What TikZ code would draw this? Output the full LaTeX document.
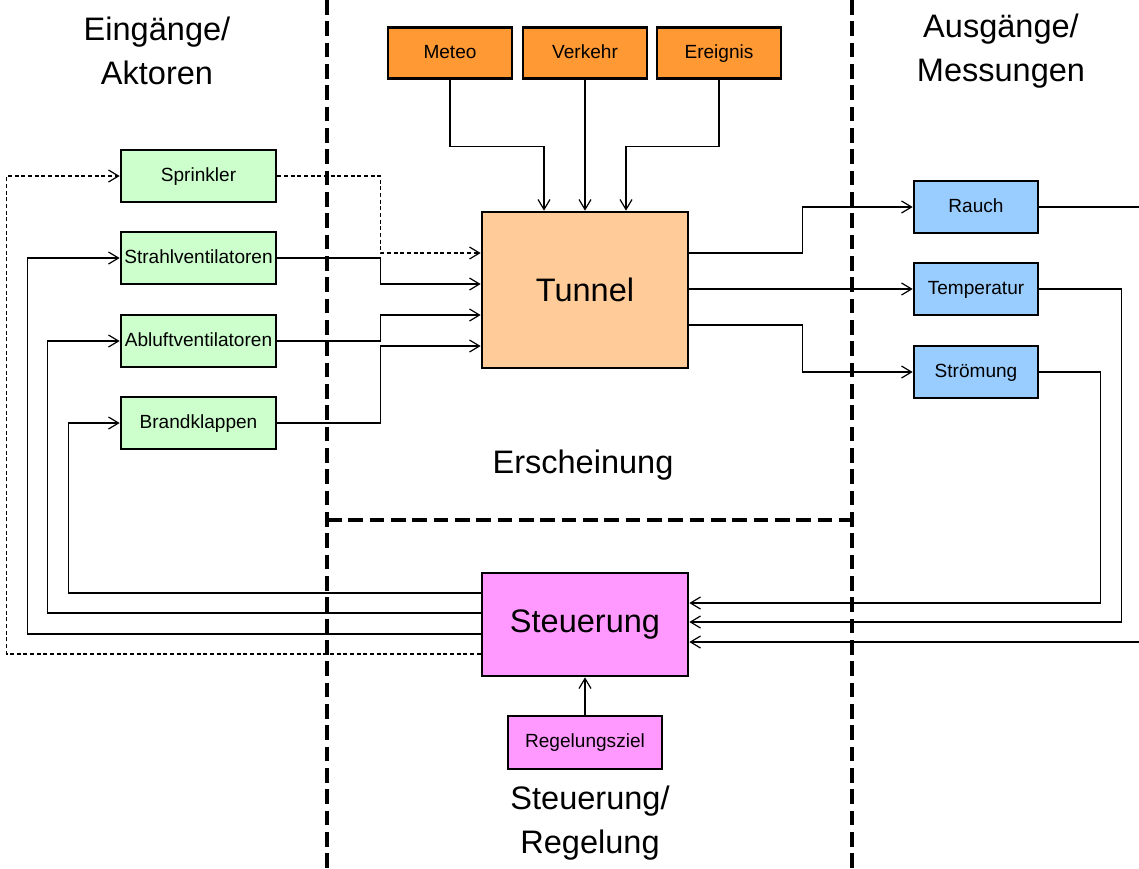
\documentclass[tikz,border=0pt]{standalone}
\usepackage{fontspec}
\setmainfont{Liberation Sans}
\usetikzlibrary{arrows.meta, positioning, calc}
\definecolor{aktor}{HTML}{CCFFCC}
\definecolor{stoer}{HTML}{FF9933}
\definecolor{tunnelc}{HTML}{FFCC99}
\definecolor{mess}{HTML}{99CCFF}
\definecolor{regel}{HTML}{FF99FF}
\tikzset{
  box/.style={draw, line width=2pt, inner sep=1pt, text height=10.5pt, text depth=3pt,
    font=\fontsize{14.3}{17}\selectfont},
  bigbox/.style={draw, line width=2pt, font=\fontsize{24.4}{30}\selectfont},
  title/.style={align=center, font=\fontsize{24.4}{32.5}\selectfont},
  arr/.style={line width=0.9pt, -{Straight Barb[length=7.5pt,width=9pt,line width=0.9pt]}},
  fine/.style={line width=0.9pt},
  fdash/.style={dash pattern=on 3pt off 2pt},
  divider/.style={line width=3pt, dash pattern=on 11pt off 5pt}
}

\begin{document}
\begin{tikzpicture}[x=0.75pt, y=-0.75pt]
  \useasboundingbox (0,0) rectangle (1139,868);
  % region borders
  \draw[divider] (327,0) -- (327,868);
  \draw[divider] (852,0) -- (852,868);
  \draw[divider] (327,520) -- (852,520);
  % titles
  \node[title] (tin) at (157,51) {Eingänge/\\Aktoren};
  \node[title] (tout) at (1001,51) {Ausgänge/\\Messungen};
  \node[title] (terschein) at (583,465) {Erscheinung};
  \node[title] (tregel) at (590,823) {Steuerung/\\Regelung};
  % disturbances
  \node[box, fill=stoer, minimum width=93pt, minimum height=38.25pt] (meteo) at (450,53) {Meteo};
  \node[box, fill=stoer, minimum width=93pt, minimum height=38.25pt] (verkehr) at (585,53) {Verkehr};
  \node[box, fill=stoer, minimum width=93pt, minimum height=38.25pt] (ereignis) at (719,53) {Ereignis};
  % plant and controller
  \node[bigbox, fill=tunnelc, minimum width=154.5pt, minimum height=117pt] (tunnel) at (585,290) {Tunnel};
  \node[bigbox, fill=regel, minimum width=154.5pt, minimum height=77.25pt] (steuerung) at (585,624.5) {Steuerung};
  \node[box, fill=regel, minimum width=115.5pt, minimum height=39.75pt] (ziel) at (585,742.5) {Regelungsziel};
  % actuators
  \node[box, fill=aktor, minimum width=116.25pt, minimum height=39pt] (sprinkler) at (198.5,176) {Sprinkler};
  \node[box, fill=aktor, minimum width=116.25pt, minimum height=39pt] (strahl) at (198.5,258) {Strahlventilatoren};
  \node[box, fill=aktor, minimum width=116.25pt, minimum height=39pt] (abluft) at (198.5,341) {Abluftventilatoren};
  \node[box, fill=aktor, minimum width=116.25pt, minimum height=39pt] (brand) at (198.5,423) {Brandklappen};
  % measurements
  \node[box, fill=mess, minimum width=93pt, minimum height=39pt] (rauch) at (976,207) {Rauch};
  \node[box, fill=mess, minimum width=93pt, minimum height=39pt] (temp) at (976,289) {Temperatur};
  \node[box, fill=mess, minimum width=93pt, minimum height=39pt] (stroemung) at (976,372) {Strömung};
  \coordinate (rauchend) at (1139,207);
  \coordinate (messin) at (1139,642);

  % disturbances -> tunnel
  \draw[arr] (meteo.south) -- ++(0,67) -| ($(tunnel.north)+(-41,0)$);
  \draw[arr] (verkehr.south) -- (tunnel.north);
  \draw[arr] (ereignis.south) -- ++(0,67) -| ($(tunnel.north)+(41,0)$);
  % actuators -> tunnel
  \draw[arr, fdash] (sprinkler.east) -- ++(103,0) |- ($(tunnel.west)+(0,-37)$);
  \draw[arr] (strahl.east) -- ++(103,0) |- ($(tunnel.west)+(0,-6)$);
  \draw[arr] (abluft.east) -- ++(103,0) |- ($(tunnel.west)+(0,25)$);
  \draw[arr] (brand.east) -- ++(103,0) |- ($(tunnel.west)+(0,56)$);
  % tunnel -> measurements
  \draw[arr] ($(tunnel.east)+(0,-37)$) -- ++(113,0) |- (rauch.west);
  \draw[arr] (tunnel.east |- temp.west) -- (temp.west);
  \draw[arr] ($(tunnel.east)+(0,35)$) -- ++(113,0) |- (stroemung.west);
  \draw[fine] (rauch.east) -- (rauchend);
  % measurements -> controller
  \draw[arr] (stroemung.east) -- ++(61,0) |- ($(steuerung.east)+(0,-21.5)$);
  \draw[arr] (temp.east) -- ++(82,0) |- ($(steuerung.east)+(0,-2.5)$);
  \draw[arr] (messin) -- (steuerung.east |- messin);
  % controller -> actuators
  \draw[arr] ($(steuerung.west)+(0,-31.5)$) -| ($(brand.west)+(-51,0)$) -- (brand.west);
  \draw[arr] ($(steuerung.west)+(0,-11.5)$) -| ($(abluft.west)+(-72,0)$) -- (abluft.west);
  \draw[arr] ($(steuerung.west)+(0,9.5)$) -| ($(strahl.west)+(-92,0)$) -- (strahl.west);
  \draw[arr, fdash] ($(steuerung.west)+(0,29.5)$) -| ($(sprinkler.west)+(-113,0)$) -- (sprinkler.west);
  \draw[arr] (ziel) -- (steuerung);
\end{tikzpicture}
\end{document}
